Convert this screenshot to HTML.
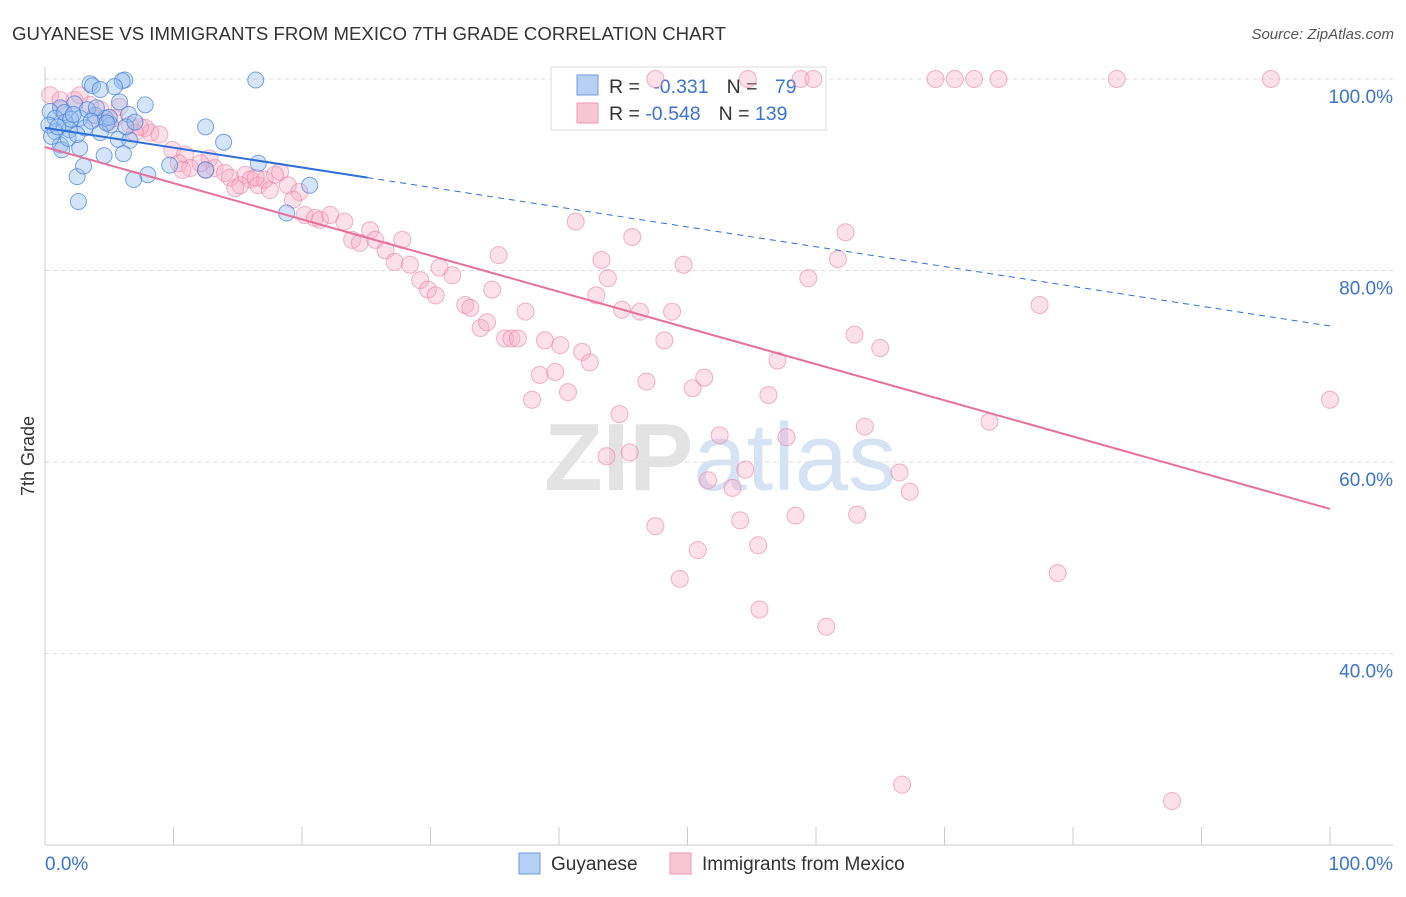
<!DOCTYPE html>
<html><head><meta charset="utf-8"><style>
body{margin:0;background:#fff;font-family:"Liberation Sans",sans-serif}
svg text{font-family:"Liberation Sans",sans-serif}
</style></head><body>
<svg id="chart" width="1406" height="892" xmlns="http://www.w3.org/2000/svg">
<text x="12" y="40" font-size="18.6" fill="#333" textLength="714">GUYANESE VS IMMIGRANTS FROM MEXICO 7TH GRADE CORRELATION CHART</text>
<text x="1394" y="39" font-size="15" fill="#555" text-anchor="end" font-style="italic">Source: ZipAtlas.com</text>
<text x="720" y="490" font-size="96" fill="#e3e3e3" text-anchor="middle" font-weight="bold">ZIP<tspan fill="#d5e3f3" font-weight="normal">atlas</tspan></text>
<g id="grid"></g><g id="axes"></g>
<g>
<rect x="551" y="67" width="275" height="63" fill="#fff" stroke="#ddd"/>
<rect x="577" y="75" width="21" height="20" fill="#b6d0f5" stroke="#6d9be0"/>
<rect x="577" y="103" width="21" height="20" fill="#f8c5d5" stroke="#eb9ab4"/>
<text x="609" y="93" font-size="19.5" fill="#333">R = <tspan fill="#3b73d0" dx="8">-0.331</tspan><tspan fill="#333" dx="18">N = </tspan><tspan fill="#3b73d0" dx="12">79</tspan></text>
<text x="609" y="120" font-size="19.5" fill="#333">R = <tspan fill="#3b73d0">-0.548</tspan><tspan fill="#333" dx="18">N = </tspan><tspan fill="#3b73d0">139</tspan></text>
</g>
<g id="pts"></g><g id="lines"></g>
<text x="34" y="456" font-size="18" fill="#333" text-anchor="middle" transform="rotate(-90 34 456)">7th Grade</text>
<g>
<rect x="519" y="853" width="21" height="21" fill="#b6d0f5" stroke="#6d9be0"/>
<text x="551" y="870" font-size="19" fill="#333">Guyanese</text>
<rect x="670" y="853" width="21" height="21" fill="#f8c5d5" stroke="#eb9ab4"/>
<text x="702" y="870" font-size="19" fill="#333">Immigrants from Mexico</text>
</g>
</svg>
<script>
const yTicks=[100,80,60,40];
const yTickLabels=["100.0%","80.0%","60.0%","40.0%"];
const xTickLabels=["0.0%","100.0%"];
const blueX=[3.5,3.7,6.2,6.0,16.4,5.4,4.3,5.8,7.8,6.5,2.3,1.2,0.4,0.8,1.6,2.7,3.9,4.7,5.1,3.1,1.9,0.8,4.3,5.7,6.6,1.2,2.7,1.3,4.6,6.1,12.5,13.9,9.7,12.5,16.6,8.0,6.9,2.5,3.0,2.6,20.6,18.8,0.3,1.5,2.0,3.3,4.0,5.0,6.3,0.5,1.8,1.0,2.2,4.8,7.0,3.6,2.5];
const blueY=[99.5,99.3,99.9,99.8,99.9,99.2,98.9,97.6,97.3,96.3,97.4,97.0,96.6,95.9,95.5,95.9,96.2,95.9,95.2,94.9,94.7,94.5,94.4,93.7,93.6,93.1,92.8,92.6,92.0,92.2,95.0,93.4,91.0,90.5,91.2,90.0,89.5,89.8,90.9,87.2,88.9,86.0,95.2,96.5,95.8,96.8,97.0,96.0,95.0,94.0,93.8,95.0,96.3,95.4,95.5,95.6,94.2];
const pinkX=[47.5,54.7,58.8,59.8,69.3,70.8,72.3,74.2,83.4,95.4,0.4,1.2,2.3,3.5,4.3,5.4,6.6,7.8,8.2,8.9,9.9,10.9,10.4,11.3,12.8,13.2,12.5,14.0,14.4,15.6,16.0,16.6,14.8,17.5,17.1,18.3,18.9,19.8,19.3,20.2,21.0,21.4,22.2,23.3,23.9,24.5,25.3,25.7,26.5,27.2,27.8,28.4,29.2,29.8,30.4,30.7,31.7,32.7,33.1,33.9,34.4,34.8,35.3,35.8,36.3,36.8,37.4,37.9,38.5,38.9,39.7,40.1,40.7,41.3,41.8,42.4,42.9,43.3,43.8,44.9,45.7,46.3,46.8,48.2,48.8,49.7,50.4,51.3,44.7,43.7,45.5,47.5,49.4,50.8,51.6,52.5,53.5,54.1,54.5,55.5,55.6,56.3,57.0,57.7,58.4,59.4,60.8,61.7,62.3,63.0,63.8,65.0,63.2,66.5,67.3,73.5,77.4,78.8,100,66.7,87.7,2.7,5.8,3.9,4.9,7.0,7.4,1.3,10.7,12.1,15.2,16.4,17.9];
const pinkY=[100,100,100,100,100,100,100,100,100,100,98.3,97.8,97.8,97.3,96.8,95.9,95.2,94.9,94.4,94.2,92.6,92.1,91.2,90.7,91.7,90.7,90.5,90.2,89.7,90.0,89.5,88.9,88.6,88.4,89.5,90.3,88.9,88.2,87.4,85.8,85.5,85.3,85.8,85.1,83.2,82.9,84.2,83.2,82.1,80.9,83.2,80.6,79.0,78.0,77.4,80.3,79.5,76.4,76.1,74.0,74.6,78.0,81.6,72.9,72.9,72.9,75.7,66.5,69.1,72.7,69.4,72.2,67.3,85.1,71.5,70.4,77.4,81.1,79.2,75.9,83.5,75.7,68.4,72.7,75.7,80.6,67.7,68.8,65.0,60.6,61.0,53.3,47.8,50.8,58.1,62.8,57.3,53.9,59.2,51.3,44.6,67.0,70.6,62.6,54.4,79.2,42.8,81.2,84.0,73.3,63.7,71.9,54.5,58.9,56.9,64.2,76.4,48.4,66.5,26.3,24.6,98.3,97.1,95.9,95.5,94.4,95.0,96.8,90.5,91.2,88.9,89.7,90.0];
const blueTrend=[94.9,74.2];
const pinkTrend=[92.9,55.1];
const NS="http://www.w3.org/2000/svg";
const X=v=>45+v*12.85, Y=v=>79+(100-v)*9.575;
function mk(tag,at,parent){const e=document.createElementNS(NS,tag);for(const k in at)e.setAttribute(k,at[k]);document.getElementById(parent).appendChild(e);return e;}
yTicks.forEach((t,i)=>{
 const g=mk('line',{x1:45,x2:1393,y1:Y(t),y2:Y(t),stroke:'#ddd','stroke-dasharray':'4 4'},'grid');
 
 
 const l=mk('text',{x:1393,y:Y(t)+24,'font-size':19,fill:'#3b73d0','text-anchor':'end'},'axes');l.textContent=yTickLabels[i];
 
 
});
mk('line',{x1:45,x2:45,y1:67,y2:845,stroke:'#ccc'},'axes');
mk('line',{x1:45,x2:1393,y1:845,y2:845,stroke:'#ccc'},'axes');
for(let i=0;i<=10;i++){const t=mk('line',{x1:X(i*10),x2:X(i*10),y1:827,y2:845,stroke:'#ccc'},'axes');
 
 }
[[0,'start'],[100,'end']].forEach((p,i)=>{const l=mk('text',{x:i?1393:45,y:870,'font-size':19,fill:'#3b73d0','text-anchor':p[1]},'axes');l.textContent=xTickLabels[i];
 
 });
pinkX.forEach((v,i)=>{const c=mk('circle',{cx:X(v),cy:Y(pinkY[i]),r:8.5,fill:'rgba(246,170,196,0.35)',stroke:'rgba(232,130,165,0.6)','stroke-width':1},'pts');
 
 });
blueX.forEach((v,i)=>{const c=mk('circle',{cx:X(v),cy:Y(blueY[i]),r:8,fill:'rgba(150,190,240,0.4)',stroke:'rgba(70,130,215,0.7)','stroke-width':1},'pts');
 
 });
const by=x=>blueTrend[0]+(blueTrend[1]-blueTrend[0])*x/100;
let e=mk('line',{x1:X(0),y1:Y(by(0)),x2:X(25.1),y2:Y(by(25.1)),stroke:'#2f6fd6','stroke-width':2},'lines');


e=mk('line',{x1:X(25.1),y1:Y(by(25.1)),x2:X(100),y2:Y(by(100)),stroke:'#2f6fd6','stroke-width':1,'stroke-dasharray':'6 5'},'lines');


e=mk('line',{x1:X(0),y1:Y(pinkTrend[0]),x2:X(100),y2:Y(pinkTrend[1]),stroke:'#e7709a','stroke-width':2},'lines');


</script>
</body></html>
